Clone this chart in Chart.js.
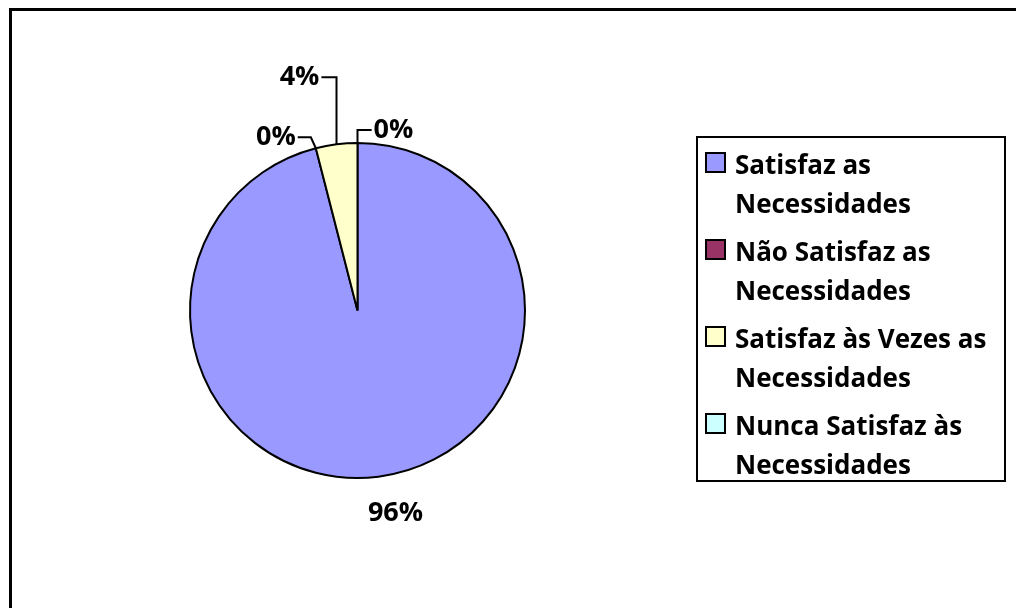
<!DOCTYPE html>
<html>
<head>
<meta charset="utf-8">
<script src="https://cdn.jsdelivr.net/npm/chart.js@4"></script>
<style>
  html, body { margin: 0; padding: 0; background: #fff; overflow: hidden; }
  #wrap { width: 1016px; height: 608px; }
</style>
</head>
<body>
<div id="wrap"><canvas id="myChart" width="1016" height="608"></canvas></div>
<script>
// categorias (cada uma quebrada em duas linhas, como na legenda)
const categorias = [
  ['Satisfaz as', 'Necessidades'],
  ['Não Satisfaz as', 'Necessidades'],
  ['Satisfaz às Vezes as', 'Necessidades'],
  ['Nunca Satisfaz às', 'Necessidades']
];
const percentuais = [96, 0, 4, 0];
const rotulos = ['96%', '0%', '4%', '0%'];
const cores = ['#9999FF', '#993366', '#FFFFCC', '#CCFFFF'];

const FONTE = 'bold 26px "Open Sans"';
const FONTE_ROTULO = 'bold 27px "Open Sans"';

// fundo branco e moldura do gráfico
const moldura = {
  id: 'moldura',
  beforeDraw(chart) {
    const ctx = chart.ctx;
    ctx.save();
    ctx.fillStyle = '#fff';
    ctx.fillRect(0, 0, chart.width, chart.height);
    ctx.strokeStyle = '#000';
    ctx.lineWidth = 3;
    ctx.strokeRect(10.5, 9.5, 1100, 700);
    ctx.restore();
  }
};

// rótulos de porcentagem com linhas de chamada
const rotulosFatias = {
  id: 'rotulosFatias',
  afterDatasetsDraw(chart, args, opts) {
    const ctx = chart.ctx;
    const arcs = chart.getDatasetMeta(0).data;
    ctx.save();
    ctx.font = FONTE_ROTULO;
    ctx.fillStyle = '#000';
    ctx.strokeStyle = '#000';
    ctx.lineWidth = 2;
    ctx.textBaseline = 'middle';
    arcs.forEach((arc, i) => {
      const p = opts.posicoes[i];
      const meio = (arc.startAngle + arc.endAngle) / 2;
      const bx = arc.x + Math.cos(meio) * arc.outerRadius;
      const by = arc.y + Math.sin(meio) * arc.outerRadius;
      const lx = bx + p.dx, ly = by + p.dy;
      const texto = rotulos[i];
      const w = ctx.measureText(texto).width;
      ctx.textAlign = 'center';
      ctx.fillText(texto, lx, ly);
      if (p.linha) {
        const lado = p.dx < 0 ? 1 : -1;
        const ini = lx + lado * (w / 2 + 2);
        const cotovelo = bx + p.desvio;
        ctx.beginPath();
        ctx.moveTo(ini, ly);
        ctx.lineTo(cotovelo, ly);
        ctx.lineTo(bx, by);
        ctx.stroke();
      }
    });
    ctx.restore();
  }
};

// legenda em caixa, com texto em duas linhas
const legendaCaixa = {
  id: 'legendaCaixa',
  afterDraw(chart, args, opts) {
    const ctx = chart.ctx;
    ctx.save();
    ctx.strokeStyle = '#000';
    ctx.lineWidth = 2;
    ctx.strokeRect(opts.x, opts.y, opts.w, opts.h);
    ctx.font = FONTE;
    ctx.textAlign = 'left';
    ctx.textBaseline = 'alphabetic';
    categorias.forEach((linhas, i) => {
      const base = opts.y + 37 + i * 87;
      ctx.fillStyle = cores[i];
      ctx.fillRect(opts.x + 9, base - 21, 19, 19);
      ctx.lineWidth = 2;
      ctx.strokeRect(opts.x + 9, base - 21, 19, 19);
      ctx.fillStyle = '#000';
      linhas.forEach((l, j) => ctx.fillText(l, opts.x + 38, base + j * 39));
    });
    ctx.restore();
  }
};

new Chart(document.getElementById('myChart'), {
  type: 'pie',
  data: {
    labels: categorias,
    datasets: [{
      data: percentuais,
      backgroundColor: cores,
      borderColor: '#000',
      borderWidth: 2
    }]
  },
  options: {
    responsive: false,
    animation: false,
    layout: { padding: { left: 189, right: 490, top: 142, bottom: 129 } },
    plugins: {
      legend: { display: false },
      tooltip: { enabled: false },
      rotulosFatias: {
        posicoes: [
          { dx: 17, dy: 37, linha: false },
          { dx: -40, dy: -11, linha: true, desvio: -5 },
          { dx: -37, dy: -67, linha: true, desvio: 0 },
          { dx: 36, dy: -13, linha: true, desvio: 0 }
        ]
      },
      legendaCaixa: { x: 697, y: 137, w: 308, h: 344 }
    }
  },
  plugins: [moldura, rotulosFatias, legendaCaixa]
});
</script>
</body>
</html>
